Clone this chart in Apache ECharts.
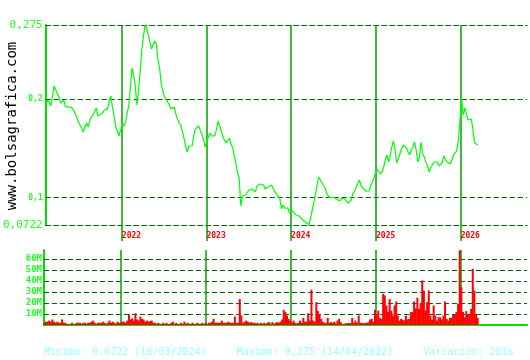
<!DOCTYPE html>
<html><head><meta charset="utf-8">
<script src="https://cdn.jsdelivr.net/npm/echarts@6/dist/echarts.min.js"></script>
<style>html,body{margin:0;padding:0;background:#fff}#c{width:530px;height:360px}</style>
</head><body><div id="c"></div>
<script>
// ---- data ----
const startDate = '2021-02-08';   // first weekly point
const stepDays = 7;                // weekly series
const axisRange = ['2021-02-07', '2026-10-14'];
const prices = [
0.1939,0.1990,0.1969,0.1929,0.1939,0.2132,0.2091,0.2081,0.2020,0.1959,
0.1939,0.1990,0.1919,0.1909,0.1919,0.1899,0.1909,0.1888,0.1868,0.1817,
0.1767,0.1736,0.1706,0.1665,0.1655,0.1757,0.1716,0.1777,0.1817,0.1838,
0.1838,0.1909,0.1828,0.1838,0.1848,0.1868,0.1888,0.1868,0.1899,0.1990,
0.2030,0.1909,0.1828,0.1716,0.1675,0.1625,0.1686,0.1757,0.1726,0.1767,
0.1858,0.1929,0.2111,0.2314,0.2243,0.2132,0.1939,0.2091,0.2264,0.2497,
0.2629,0.275,0.2720,0.2649,0.2629,0.2507,0.2548,0.2588,0.2558,0.2395,
0.2314,0.2152,0.2081,0.2020,0.1990,0.1969,0.1939,0.1899,0.1909,0.1919,
0.1848,0.1797,0.1757,0.1736,0.1726,0.1604,0.1523,0.1462,0.1523,0.1503,
0.1523,0.1625,0.1696,0.1706,0.1726,0.1746,0.1645,0.1594,0.1513,0.1564,
0.1614,0.1655,0.1625,0.1645,0.1625,0.1686,0.1777,0.1726,0.1675,0.1614,
0.1625,0.1554,0.1543,0.1604,0.1543,0.1503,0.1483,0.1341,0.1249,0.1199,
0.0915,0.1016,0.1016,0.1026,0.1036,0.1077,0.1087,0.1087,0.1077,0.1057,
0.1118,0.1138,0.1138,0.1148,0.1128,0.1087,0.1087,0.1108,0.1097,0.1128,
0.1118,0.1057,0.1036,0.1047,0.0996,0.0884,0.0925,0.0894,0.0884,0.0894,
0.0844,0.0833,0.0864,0.0844,0.0823,0.0803,0.0813,0.0793,0.0773,0.0783,
0.0752,0.0732,0.0722,0.0793,0.0874,0.0945,0.0955,0.1128,0.1209,0.1189,
0.1148,0.1148,0.1097,0.1036,0.1026,0.0996,0.0986,0.1006,0.0996,0.0986,
0.0966,0.0966,0.0996,0.1006,0.0986,0.0966,0.0945,0.0945,0.0976,0.1036,
0.1067,0.1077,0.1138,0.1179,0.1128,0.1097,0.1077,0.1067,0.1077,0.1067,
0.1118,0.1108,0.1199,0.1249,0.1290,0.1310,0.1239,0.1260,0.1310,0.1381,
0.1432,0.1361,0.1422,0.1513,0.1574,0.1483,0.1351,0.1341,0.1442,0.1493,
0.1533,0.1513,0.1503,0.1462,0.1432,0.1483,0.1513,0.1564,0.1483,0.1361,
0.1402,0.1564,0.1442,0.1412,0.1361,0.1320,0.1260,0.1300,0.1320,0.1361,
0.1381,0.1361,0.1320,0.1300,0.1351,0.1422,0.1442,0.1361,0.1371,0.1341,
0.1381,0.1432,0.1442,0.1473,0.1584,0.1777,0.2010,0.1838,0.1909,0.1909,
0.1787,0.1777,0.1797,0.1686,0.1554,0.1574,0.1533
];
const volumes = [ // millions
2,3,3,4,3,5,3,2,3,2,2,5,
2,2,1,1,1,2,1,1,2,2,2,1,2,2,1,2,2,3,
4,2,1,2,2,2,3,2,1,2,4,2,3,2,1,3,2,
2,3,3,2,4,9.5,5,6,4,10.7,5,4,7.7,5.6,5,3,4,3,3.5,4,2,
2,1,2,1,1,2,1,2,1,1,2,
3,1,2,1,1,2,1,3,1,2,1,1,2,1,1,2,1,1,2,1,2,1,2,
2,3,5.6,2,2,2,2,4,2,2,2,3,2,2,2,7.7,2,2,23.5,8.6,2,3,4,3,2,2.6,2,2,1.5,2,1,2,1,2,1,2,2.6,1,2.6,1,2,2.6,2,3,5,13.8,11.7,8.6,5.6,4,
2,4,2,1.5,2,4,2,6.5,3,3,10.7,4,32,4,3,20.7,12.6,10,5.6,3,2,1.7,6.5,2,2.6,2,3,1.5,4,5.6,2.6,1,1,1.5,1.7,1.7,1.7,6.5,2,4,2,8.6,2,1.7,1.7,1.7,2,2.6,5,5.6,3,
13.8,10,13,6.5,5.6,28.3,26.8,17.7,11.7,23.5,13,8.6,17.7,21.3,8.6,4,5.6,4.7,4,8.6,5,5.6,11.7,11.7,21.3,15,24.7,14.7,19.2,40.4,31.3,13.2,20.7,31.3,8.6,4.7,17.7,8.6,4,7,
7,5,8.6,21.3,5.6,4,6.5,
6.5,9.5,10,11.7,19.2,67.7,34.3,11.7,7,12.6,10,9.5,14.7,51,31.3,10,6.5
];
const priceTicks = [0.0722, 0.1, 0.2, 0.275];
const priceTickLabels = ['0,0722', '0,1', '0,2', '0,275'];
const volTicks = [10, 20, 30, 40, 50, 60];
const volTickLabels = ['10M', '20M', '30M', '40M', '50M', '60M'];
const volMax = 68;
const yearMarks = ['2022-01-01', '2023-01-01', '2024-01-01', '2025-01-01', '2026-01-01'];
const yearLabels = ['2022', '2023', '2024', '2025', '2026'];
const watermark = 'www.bolsagrafica.com';
const footer = 'Minimo: 0,0722 (18/03/2024)     Maximo: 0,275 (14/04/2022)     Variación: 281%';

// ---- build ----
function ts(s){const p=s.split('-').map(Number);return Date.UTC(p[0],p[1]-1,p[2]);}
const DAY = 86400000;
const t0 = ts(startDate);
const dates = prices.map((_, i) => t0 + i * stepDays * DAY);
const priceData = prices.map((v, i) => [dates[i], v]);
const volData = volumes.map((v, i) => [dates[i], v]);
const yearTs = yearMarks.map(ts);
const xmin = ts(axisRange[0]), xmax = ts(axisRange[1]);

const GRID_DASH = {color: '#006400', type: [5, 3], width: 1};
const YEAR_LINE = {color: '#00a000', type: 'solid', width: 1.5};
const AXIS_GREEN = '#00dd00';
const LABEL_GREEN = '#22ff22';
const MONO = '"DejaVu Sans Mono", monospace';

function findIdx(arr, v){for(let i=0;i<arr.length;i++){if(Math.abs(arr[i]-v)<1e-6*Math.max(1,Math.abs(v)))return i;}return -1;}

const chart = echarts.init(document.getElementById('c'), null, {renderer: 'canvas'});
chart.setOption({
  animation: false,
  backgroundColor: '#fff',
  grid: [
    {left: 44, right: 3, top: 25, height: 200},
    {left: 44, right: 3, top: 250, height: 75}
  ],
  xAxis: [
    {type: 'value', gridIndex: 0, min: xmin, max: xmax, scale: true, position: 'bottom',
     axisLine: {show: true, onZero: false, lineStyle: GRID_DASH}, splitLine: {show: false},
     axisTick: {show: true, customValues: yearTs, length: 16, lineStyle: {color: '#00a000', width: 1.5}},
     axisLabel: {show: true, customValues: yearTs, color: '#ff0000', fontSize: 8, fontWeight: 'bold',
       fontFamily: MONO, align: 'left', margin: 7,
       formatter: v => {const i = findIdx(yearTs, v); return i >= 0 ? yearLabels[i] : '';}}},
    {type: 'value', gridIndex: 1, min: xmin, max: xmax, scale: true,
     axisLine: {show: true, onZero: false, lineStyle: {color: AXIS_GREEN, width: 2}},
     axisTick: {show: false}, axisLabel: {show: false}, splitLine: {show: false}},
    {type: 'value', gridIndex: 0, min: xmin, max: xmax, scale: true, position: 'top',
     axisLine: {show: true, onZero: false, lineStyle: GRID_DASH},
     axisTick: {show: false}, axisLabel: {show: false}, splitLine: {show: false}}
  ],
  yAxis: [
    {type: 'value', gridIndex: 0, min: priceTicks[0], max: priceTicks[priceTicks.length - 1],
     axisLine: {show: true, lineStyle: {color: AXIS_GREEN, width: 2}},
     axisTick: {show: false}, splitLine: {show: false},
     axisLabel: {show: true, customValues: priceTicks, margin: 3,
       formatter: v => {const i = findIdx(priceTicks, v); if (i < 0) return '';
         const big = (i === 0 || i === priceTicks.length - 1);
         return (big ? '{b|' : '{s|') + priceTickLabels[i] + '}';},
       rich: {b: {fontSize: 11, color: LABEL_GREEN, fontFamily: MONO},
              s: {fontSize: 8, color: LABEL_GREEN, fontFamily: MONO, fontWeight: 'bold'}}}},
    {type: 'value', gridIndex: 1, min: 0, max: volMax,
     axisLine: {show: true, lineStyle: {color: AXIS_GREEN, width: 2}},
     axisTick: {show: false}, splitLine: {show: false},
     axisLabel: {show: true, customValues: volTicks, margin: 2, color: LABEL_GREEN, fontSize: 9,
       fontWeight: 'bold', fontFamily: MONO,
       formatter: v => {const i = findIdx(volTicks, v); return i >= 0 ? volTickLabels[i] : '';}}}
  ],
  series: [
    {type: 'line', xAxisIndex: 0, yAxisIndex: 0, data: priceData, showSymbol: false, symbol: 'none',
     clip: false,
     lineStyle: {color: '#00ff00', width: 1.2}, itemStyle: {color: '#00ff00'}, z: 3,
     markLine: {silent: true, symbol: 'none', label: {show: false}, animation: false, z: 2,
       data: priceTicks.slice(1, -1).map(v => ({yAxis: v, lineStyle: GRID_DASH}))
         .concat(yearTs.map(t => ({xAxis: t, lineStyle: YEAR_LINE})))}},
    {type: 'bar', xAxisIndex: 1, yAxisIndex: 1, data: volData, barWidth: 2, clip: false,
     itemStyle: {color: '#ff0000'}, z: 3,
     markLine: {silent: true, symbol: 'none', label: {show: false}, animation: false, z: 2,
       data: volTicks.map(v => ({yAxis: v, lineStyle: GRID_DASH}))
         .concat(yearTs.map(t => ({xAxis: t, lineStyle: YEAR_LINE})))}}
  ],
  graphic: [
    {type: 'text', x: 12, y: 126, rotation: Math.PI / 2,
     style: {text: watermark, font: '14px ' + MONO, fill: '#000',
             textAlign: 'center', textVerticalAlign: 'middle', align: 'center', verticalAlign: 'middle'}},
    {type: 'text', x: 44, y: 352,
     style: {text: footer, font: '10px ' + MONO, fill: '#99ffff',
             textAlign: 'left', textVerticalAlign: 'middle', align: 'left', verticalAlign: 'middle'}}
  ]
});
</script>
</body></html>
